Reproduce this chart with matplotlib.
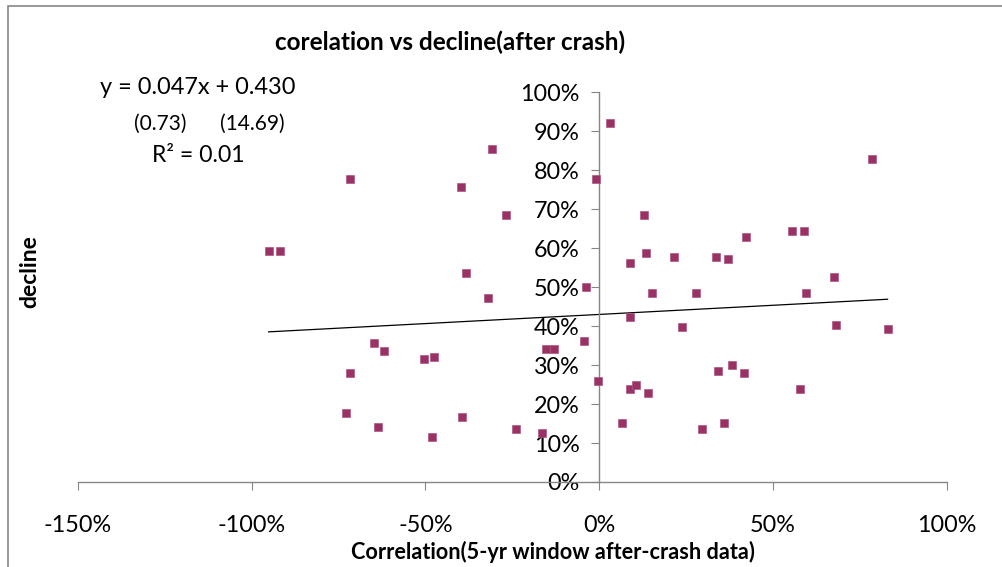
import matplotlib
matplotlib.use('Agg')
import matplotlib.pyplot as plt
import matplotlib.ticker as mtick
from matplotlib.patches import Rectangle
import numpy as np

plt.rcParams['font.family'] = ['Lato', 'DejaVu Sans']
plt.rcParams['axes.unicode_minus'] = False

# correlation (5-yr window after crash) vs decline, as fractions
corr = [-0.308, -0.716, -0.399, -0.951, -0.917, -0.382, -0.319, -0.647, -0.618,
        -0.503, -0.474, -0.716, -0.727, -0.635, -0.480, -0.394, -0.240, -0.165,
        -0.268, -0.153, -0.130, -0.043, -0.037, -0.009, -0.004,
        0.031, 0.128, 0.089, 0.134, 0.214, 0.335, 0.370, 0.421, 0.553, 0.588,
        0.674, 0.151, 0.278, 0.594, 0.783, 0.089, 0.237, 0.680, 0.829, 0.088,
        0.105, 0.141, 0.341, 0.381, 0.416, 0.576, 0.065, 0.295, 0.358]
decline = [0.854, 0.777, 0.756, 0.592, 0.592, 0.536, 0.471, 0.356, 0.335,
           0.315, 0.320, 0.279, 0.176, 0.140, 0.115, 0.166, 0.135, 0.125,
           0.684, 0.341, 0.341, 0.361, 0.500, 0.777, 0.258,
           0.920, 0.684, 0.561, 0.587, 0.577, 0.577, 0.571, 0.628, 0.643, 0.643,
           0.525, 0.484, 0.484, 0.484, 0.828, 0.423, 0.397, 0.402, 0.392, 0.238,
           0.248, 0.228, 0.284, 0.299, 0.279, 0.238, 0.151, 0.135, 0.151]

# linear trendline as reported on the chart
slope = 0.047
intercept = 0.430
eq_text = 'y = 0.047x + 0.430'
tstat_slope = '(0.73)'
tstat_icpt = '(14.69)'
r2_text = 'R² = 0.01'

fig = plt.figure(figsize=(10.02, 5.67), dpi=100)
W, H = 1002, 567
ax = fig.add_axes([77.7 / W, 1 - 482 / H, (947 - 77.7) / W, (482 - 92.3) / H])

ax.plot(corr, decline, linestyle='none', marker='s', markersize=6.2,
        color='#993366', markeredgecolor='#b0557f', markeredgewidth=0.5, zorder=3)

xs = np.array([min(corr), max(corr)])
ax.plot(xs, slope * xs + intercept, color='black', lw=0.9, zorder=2)

ax.set_xlim(-1.5, 1.0)
ax.set_ylim(0, 1.0)
ax.xaxis.set_major_locator(mtick.MultipleLocator(0.5))
ax.yaxis.set_major_locator(mtick.MultipleLocator(0.1))
ax.xaxis.set_major_formatter(mtick.PercentFormatter(1.0, decimals=0))
ax.yaxis.set_major_formatter(mtick.PercentFormatter(1.0, decimals=0))

for s in ['top', 'right']:
    ax.spines[s].set_visible(False)
ax.spines['left'].set_position(('data', 0))
for s in ['left', 'bottom']:
    ax.spines[s].set_color('#868686')
    ax.spines[s].set_linewidth(1.0)
ax.tick_params(axis='x', direction='out', length=6, color='#868686', labelsize=16.8, pad=18)
ax.tick_params(axis='y', direction='out', length=6, color='#868686', labelsize=16.8, pad=8)
ax.patch.set_visible(False)

fig.text(553 / W, 1 - 552 / H, 'Correlation(5-yr window after-crash data)', fontsize=15.6,
         fontweight='bold', ha='center', va='center')
fig.text(30 / W, 1 - 272 / H, 'decline', rotation=90, fontsize=16.5,
         fontweight='bold', ha='center', va='center')
fig.text(450 / W, 1 - 42 / H, 'corelation vs decline(after crash)', fontsize=17.5,
         fontweight='bold', ha='center', va='center')

fig.text(100 / W, 1 - 88 / H, eq_text, fontsize=16.9, ha='left', va='center')
fig.text(134 / W, 1 - 124 / H, tstat_slope, fontsize=15, ha='left', va='center')
fig.text(220 / W, 1 - 124 / H, tstat_icpt, fontsize=15, ha='left', va='center')
fig.text(152 / W, 1 - 155 / H, r2_text, fontsize=16.6, ha='left', va='center')

fig.patches.append(Rectangle((7.5 / W, -0.2), 1.2, 1.2 - 6 / H,
                             transform=fig.transFigure, fill=False,
                             edgecolor='#868686', lw=1.2, clip_on=False))

fig.savefig('out.png', dpi=100)
